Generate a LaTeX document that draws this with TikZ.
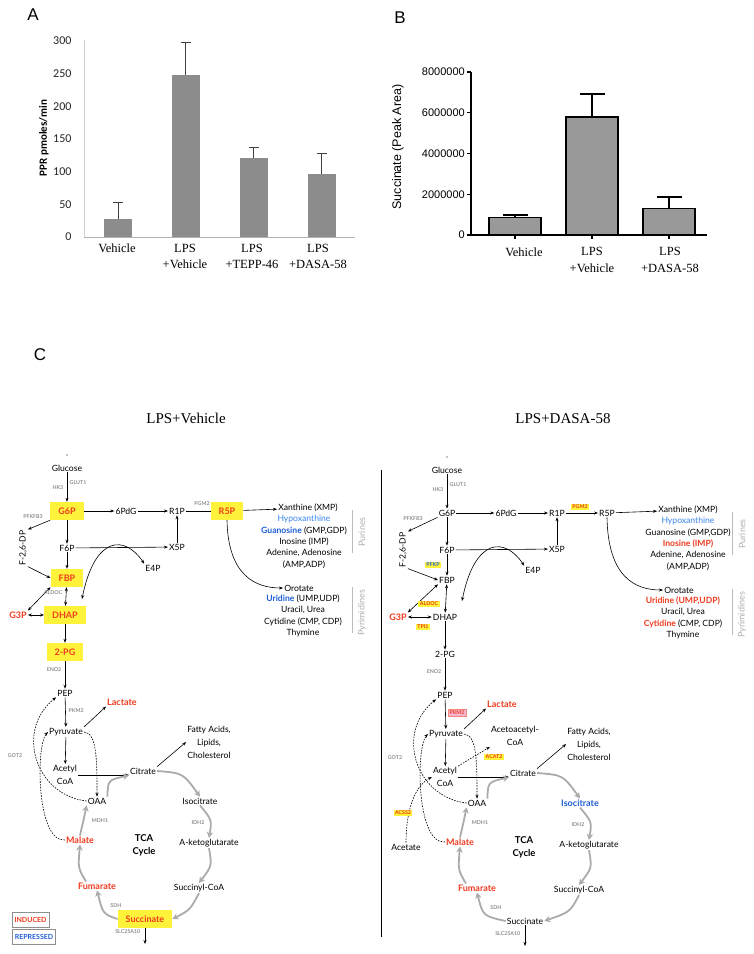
\documentclass[tikz,border=0pt]{standalone}
\usepackage{fontspec}
\setmainfont{Liberation Serif}
\newfontfamily\gill{Lato}
\newfontfamily\calib{Carlito}
\newfontfamily\arial{Liberation Sans}
\usetikzlibrary{arrows.meta}
\definecolor{xred}{HTML}{EE3B1F}
\definecolor{xblue}{HTML}{1F5FD6}
\definecolor{xlblue}{HTML}{3A86F0}
\definecolor{xyellow}{HTML}{FFF23A}
\definecolor{xpink}{HTML}{F5B5D0}
\definecolor{xgray}{HTML}{8E8E8E}
\definecolor{xtca}{HTML}{ABABAB}
\definecolor{xbarA}{HTML}{8C8C8C}
\definecolor{xbarB}{HTML}{999999}
\tikzset{
	met/.style = {font=\gill\fontsize{8.6}{13}\selectfont, inner sep=1pt, align=center},
	lst/.style = {met, font=\gill\fontsize{8.6}{11.4}\selectfont},
	up/.style = {met, font=\gill\bfseries\fontsize{9}{13}\selectfont, text=xred},
	down/.style = {up, text=xblue},
	hit/.style = {up, fill=xyellow, inner xsep=8pt, minimum height=18pt},
	enz/.style = {font=\gill\bfseries\fontsize{5.3}{6}\selectfont, text=xgray, inner sep=0.5pt},
	ebox/.style = {enz, text=xred, fill=xyellow, inner sep=1.5pt},
	pbox/.style = {ebox, fill=xpink, draw=xred!60, line width=0.4pt},
	lgd/.style = {draw=xgray, line width=0.5pt, font=\gill\bfseries\fontsize{7}{7}\selectfont, inner xsep=2.5pt, minimum height=15pt},
	arr/.style = {-{Stealth[length=4pt, width=3pt]}, line width=0.6pt},
	dbl/.style = {{Stealth[length=4pt, width=3pt]}-{Stealth[length=4pt, width=3pt]}, line width=0.6pt},
	dsh/.style = {arr, dash pattern=on 1.6pt off 1.2pt},
	cyc/.style = {-{Stealth[length=6pt, width=6.5pt]}, line width=1.8pt, draw=xtca},
	ttl/.style = {font=\arial\fontsize{17}{17}\selectfont},
	cat/.style = {font=\fontsize{12.5}{16.5}\selectfont, align=center, inner sep=0pt},
}

% one metabolic map, placed twice
\newcommand\pathway{%
	\fill (67,455) circle (0.6);
	\node[met] (glc) at (67,468) {Glucose};
	\node[sG6P] (g6p) at (67,511) {G6P};
	\node[met] (pdg) at (126,511) {6PdG};
	\node[met] (r1p) at (177,511) {R1P};
	\node[sR5P] (r5p) at (227,511) {R5P};
	\node[met] (f6p) at (67,548) {F6P};
	\node[met] (x5p) at (177,547) {X5P};
	\node[met] (e4p) at (153,568) {E4P};
	\node[met, rotate=90] (f26) at (23,548) {F-2,6-DP};
	\node[sFBP] (fbp) at (67,578) {FBP};
	\node[sDHAP] (dhap) at (65,615) {DHAP};
	\node[up] (g3p) at (18,615) {G3P};
	\node[sPG] (pg2) at (65,652) {2-PG};
	\node[met] (pep) at (65,693) {PEP};
	\node[up] (lac) at (122,702) {Lactate};
	\node[met] (pyr) at (66,732) {Pyruvate};
	\node[met] (acoa) at (65,775) {Acetyl\\CoA};
	\node[met] (cit) at (143,771) {Citrate};
	\node[met] (fat) at (209,742) {Fatty Acids,\\Lipids,\\Cholesterol};
	\node[met] (oaa) at (97,801) {OAA};
	\node[sIso] (iso) at (200,801) {Isocitrate};
	\node[met] (akg) at (209,843) {A-ketoglutarate};
	\node[met] (scoa) at (199,888) {Succinyl-CoA};
	\node[sSuc] (suc) at (145,919) {Succinate};
	\node[up] (fum) at (97,886) {Fumarate};
	\node[up] (mal) at (80,840) {Malate};
	\node[met, font=\gill\bfseries\fontsize{9.5}{13}\selectfont] (tca) at (144,845) {TCA\\Cycle};
	\node[met] (xan) at (308,508) {Xanthine (XMP)};
	\node[met] (oro) at (299,588) {Orotate};
	\coordinate (tk) at (82,599);
	\coordinate (out) at (145,944);
	% enzymes
	\node[enz, anchor=west] (glut) at (69,483) {GLUT1};
	\node[enz, anchor=east] (hk) at (64,488) {HK3};
	\node[enz] (pfkfb) at (33,517) {PFKFB3};
	\node[enz, anchor=east] (eno) at (62,670) {ENO2};
	\node[enz] (got) at (15,756) {GOT2};
	\node[enz] (mdh) at (100,821) {MDH1};
	\node[enz] (idh) at (198,823) {IDH2};
	\node[enz] (sdh) at (116,906) {SDH};
	\node[enz, anchor=east] (slc) at (141,932) {SLC25A10};
	% purine / pyrimidine brackets
	\draw[xgray!60, line width=0.6pt] (352,510) -- (352,553);
	\draw[xgray!60, line width=0.6pt] (352,587) -- (352,633);
	\node[met, rotate=90, font=\gill\fontsize{9}{9}\selectfont, text=xgray!70] (purlab) at (362,532) {Purines};
	\node[met, rotate=90, font=\gill\fontsize{9}{9}\selectfont, text=xgray!70] (pyrlab) at (362,613) {Pyrimidines};
	% glycolysis and pentose phosphate
	\draw[arr] (glc) -- (g6p);
	\draw[arr] (g6p) -- (pdg);
	\draw[arr] (pdg) -- (r1p);
	\draw[arr] (r5p) -- (xan);
	\draw[arr] (r5p.south) .. controls (228,575) and (255,588) .. (oro.west);
	\draw[arr] (g6p) -- (f6p);
	\draw[arr] (f6p) -- (x5p);
	\draw[arr] (x5p) -- (r1p);
	\draw[dbl] (tk) .. controls (95,535) and (125,535) .. (e4p.north west);
	\draw[arr] (g6p.south west) -- (f26.south east);
	\draw[arr] (f26.south west) -- (fbp.west);
	\draw[arr] (f6p) -- (fbp);
	\draw[dbl] (fbp) -- (dhap);
	\draw[dbl] (fbp.south west) -- (g3p.north east);
	\draw[dbl] (g3p) -- (dhap);
	\draw[arr] (dhap) -- (pg2);
	\draw[arr] (pg2) -- (pep);
	\draw[arr] (pep) -- (pyr);
	\draw[arr] (pyr.north east) -- (lac.south west);
	\draw[arr] (pyr) -- (acoa);
	\draw[arr] (acoa.east) -- (acoa.east -| cit.west);
	\draw[arr] (cit.north east) -- (fat.west);
	\draw[dsh] (pyr.east) .. controls (97,733) and (97,760) .. (oaa.north);
	\draw[dsh] (oaa.west) .. controls (35,795) and (15,730) .. (pep.south west);
	\draw[dsh] (mal.west) .. controls (36,842) and (36,745) .. (pyr.west);
	% TCA cycle
	\draw[cyc] (oaa.north east) .. controls (108,780) .. (cit.south west);
	\draw[cyc] (cit.east) .. controls (183,773) .. (iso.north);
	\draw[cyc] (iso.south) .. controls (212,820) .. (akg.north);
	\draw[cyc] (akg.south) .. controls (212,866) .. (scoa.north);
	\draw[cyc] (scoa.south) .. controls (190,910) .. (suc.east);
	\draw[cyc] (suc.west) .. controls (103,914) .. (fum.south);
	\draw[cyc] ([xshift=-11pt]fum.north) .. controls (78,868) .. (mal.south);
	\draw[cyc] (mal.north) .. controls (84,818) .. (oaa.south west);
	\draw[arr] (suc) -- (out);
}

\begin{document}
\begin{tikzpicture}[x=1pt, y=-1pt]
	\fill[white] (0,0) rectangle (754,954);
	\useasboundingbox (0,0) rectangle (754,954);

	% A: proton efflux
	\node[ttl] (lA) at (33,15) {A};
	\draw[black!18, line width=0.8pt] (84,40) -- (84,237);
	\draw[black!30, line width=0.8pt] (84,237) -- (355,237);
	\foreach \v in {0,50,...,300}
		\node[font=\calib\fontsize{12}{12}\selectfont, text=black!85, anchor=east] at (75,{237-0.654*\v}) {\v};
	\node[font=\calib\bfseries\fontsize{11}{11}\selectfont, rotate=90] (ylA) at (44,138) {PPR pmoles/min};
	\foreach \x/\v/\e in {118/27/53, 185.5/248/298, 253.5/121/137, 321.5/97/128} {
		\fill[xbarA] (\x-14,237) rectangle (\x+14,{237-0.654*\v});
		\draw[black!75, line width=0.7pt] (\x,{237-0.654*\v}) -- (\x,{237-0.654*\e})
			(\x-5,{237-0.654*\e}) -- (\x+5,{237-0.654*\e});
	}
	\node[cat] (a1) at (117,248) {Vehicle};
	\node[cat] (a2) at (185,256.5) {LPS\\+Vehicle};
	\node[cat] (a3) at (252,256.5) {LPS\\+TEPP-46};
	\node[cat] (a4) at (318,256.5) {LPS\\+DASA-58};

	% B: succinate
	\node[ttl] (lB) at (400,18) {B};
	\draw[line width=1.2pt] (471,72) -- (471,235) -- (707,235);
	\foreach \v/\t in {0/0, 2/2000000, 4/4000000, 6/6000000, 8/8000000} {
		\draw[line width=1.2pt] (467,{235-20.375*\v}) -- (471,{235-20.375*\v});
		\node[font=\arial\fontsize{11}{11}\selectfont, anchor=east, inner sep=1pt] at (466,{235-20.375*\v}) {\t};
	}
	\node[font=\arial\fontsize{12.5}{12.5}\selectfont, rotate=90] (ylB) at (398,147) {Succinate (Peak Area)};
	\foreach \x/\v/\e in {515/0.88/0.98, 592/5.79/6.92, 669/1.28/1.87} {
		\draw[line width=1.2pt] (\x,235) -- (\x,239);
		\draw[line width=1.2pt] (\x,{235-20.375*\v}) -- (\x,{235-20.375*\e})
			(\x-12.5,{235-20.375*\e}) -- (\x+12.5,{235-20.375*\e});
		\filldraw[fill=xbarB, line width=1.1pt] (\x-26,235) rectangle (\x+26,{235-20.375*\v});
	}
	\node[cat] (b1) at (524,252) {Vehicle};
	\node[cat] (b2) at (592,260) {LPS\\+Vehicle};
	\node[cat] (b3) at (670,260) {LPS\\+DASA-58};

	% C: metabolic maps
	\node[ttl] (lC) at (40,355) {C};
	\node[font=\fontsize{15}{15}\selectfont] (tl) at (186,418) {LPS+Vehicle};
	\node[font=\fontsize{15}{15}\selectfont] (tr) at (563,419) {LPS+DASA-58};
	\draw[line width=1pt] (381,470) -- (381,937);

	\begin{scope}[name prefix=L-, sG6P/.style=hit, sFBP/.style=hit, sDHAP/.style=hit, sPG/.style=hit,
			sR5P/.style=hit, sSuc/.style=hit, sIso/.style=met]
		\pathway
		\draw[line width=0.6pt] (r1p) -- (r5p);
		\node[enz] (pgm) at (202,504) {PGM2};
		\node[enz] (aldoc) at (53,593) {ALDOC};
		\node[enz, anchor=west] (pkm) at (68,711) {PKM2};
		\node[lst] (pur) at (304,542) {{\color{xlblue}Hypoxanthine}\\{\color{xblue}\bfseries Guanosine} (GMP,GDP)\\Inosine (IMP)\\Adenine, Adenosine\\(AMP,ADP)};
		\node[lst] (pyrl) at (303,616) {{\color{xblue}\bfseries Uridine} (UMP,UDP)\\Uracil, Urea\\Cytidine (CMP, CDP)\\Thymine};
		\node[lgd, text=xred] (ind) at (30.5,919.5) {INDUCED};
		\node[lgd, text=xblue] (rep) at (34,936.5) {REPRESSED};
	\end{scope}

	\begin{scope}[shift={(380,2)}, name prefix=R-, sG6P/.style=met, sFBP/.style=met, sDHAP/.style=met,
			sPG/.style=met, sR5P/.style=met, sSuc/.style=met, sIso/.style=down]
		\pathway
		\draw[arr] (r1p) -- (r5p);
		\node[ebox] (pgm) at (200,505) {PGM2};
		\node[ebox, text=xblue] (pfkp) at (53,563) {PFKP};
		\node[ebox] (aldoc) at (49,602) {ALDOC};
		\node[ebox] (tpi) at (43,625) {TPI1};
		\node[pbox] (pkm) at (77,711) {PKM2};
		\node[met] (acac) at (135,734) {Acetoacetyl-\\CoA};
		\node[met] (acet) at (26,845) {Acetate};
		\draw[dsh] (acoa.north east) -- (acac.south west);
		\draw[dsh] (acet.north) .. controls (26,812) and (33,785) .. (acoa.west);
		\node[ebox] (acat) at (114,755) {ACAT2};
		\node[ebox] (acss) at (23,811) {ACSS2};
		\node[lst] (pur) at (308,542) {{\color{xlblue}Hypoxanthine}\\Guanosine (GMP,GDP)\\{\color{xred}\bfseries Inosine (IMP)}\\Adenine, Adenosine\\(AMP,ADP)};
		\node[lst] (pyrl) at (303,616) {{\color{xred}\bfseries Uridine (UMP,UDP)}\\Uracil, Urea\\{\color{xred}\bfseries Cytidine} (CMP, CDP)\\Thymine};
	\end{scope}
\end{tikzpicture}
\end{document}
